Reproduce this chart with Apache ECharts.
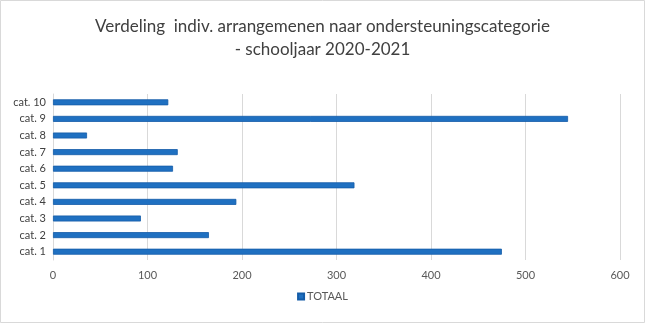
<!DOCTYPE html>
<html>
<head>
<meta charset="utf-8">
<script src="https://cdn.jsdelivr.net/npm/echarts@6/dist/echarts.min.js"></script>
<style>
  html, body { margin: 0; padding: 0; background: #fff; }
  #chart { width: 645px; height: 323px; }
</style>
</head>
<body>
<div id="chart"></div>
<script>
// Categories, bottom to top on the category axis
const categories = ['cat. 1', 'cat. 2', 'cat. 3', 'cat. 4', 'cat. 5', 'cat. 6', 'cat. 7', 'cat. 8', 'cat. 9', 'cat. 10'];
// Number of individual arrangements per category
const totaal = [475, 165, 93, 194, 319, 127, 132, 36, 545, 122];
const seriesName = 'TOTAAL';
const titleLines = ['Verdeling  indiv. arrangemenen naar ondersteuningscategorie', '- schooljaar 2020-2021'];

const FONT = 'Lato, "Liberation Sans", sans-serif';

const chart = echarts.init(document.getElementById('chart'), null, { renderer: 'canvas' });
chart.setOption({
  animation: false,
  backgroundColor: '#ffffff',
  graphic: [{
    type: 'rect',
    shape: { x: 0.5, y: 0.5, width: 644, height: 322 },
    style: { fill: 'none', stroke: '#d9d9d9', lineWidth: 1 },
    silent: true
  }],
  title: {
    text: titleLines.join('\n'),
    left: 'center',
    top: 10,
    textStyle: {
      fontFamily: FONT,
      fontSize: 17,
      fontWeight: 'normal',
      color: '#404040',
      lineHeight: 23
    }
  },
  legend: {
    bottom: 16,
    left: 'center',
    itemWidth: 6,
    itemHeight: 6,
    itemGap: 4,
    icon: 'rect',
    textStyle: { fontFamily: FONT, fontSize: 11, color: '#595959', padding: [0, 0, 0, -2] },
    data: [seriesName]
  },
  grid: { left: 53, right: 25, top: 94, bottom: 63, containLabel: false },
  xAxis: {
    type: 'value',
    min: 0,
    max: 600,
    interval: 100,
    axisLine: { show: false },
    axisTick: { show: false },
    splitLine: { show: true, lineStyle: { color: '#d9d9d9', width: 1 } },
    axisLabel: { fontFamily: FONT, fontSize: 11, color: '#595959', margin: 10 }
  },
  yAxis: {
    type: 'category',
    data: categories,
    axisLine: { show: true, lineStyle: { color: '#d9d9d9' } },
    axisTick: { show: false },
    axisLabel: { fontFamily: FONT, fontSize: 11, color: '#404040', margin: 7 }
  },
  series: [{
    name: seriesName,
    type: 'bar',
    data: totaal,
    barWidth: 6,
    itemStyle: { color: '#1f70c1', borderColor: '#145ca8', borderWidth: 0.8 }
  }]
});
</script>
</body>
</html>
